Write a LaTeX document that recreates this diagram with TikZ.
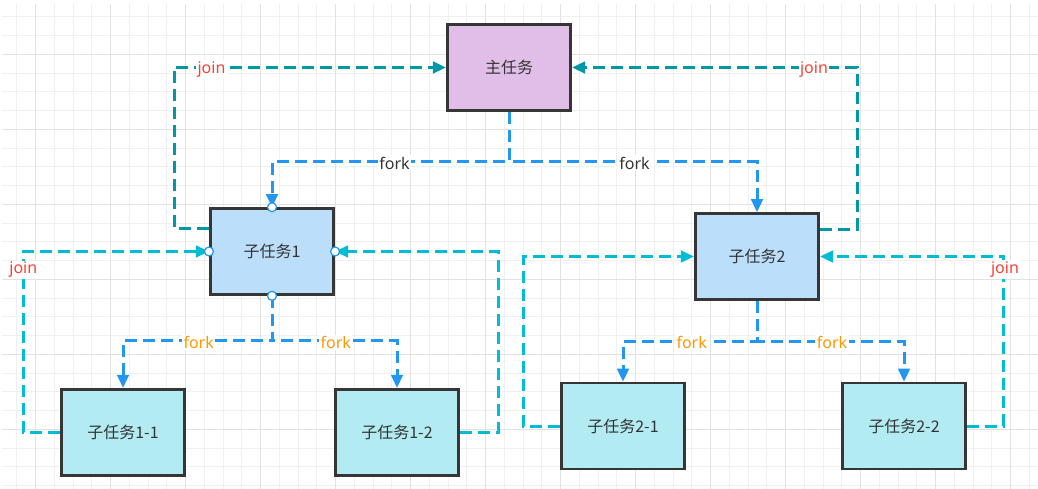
\documentclass[tikz,border=0pt]{standalone}
\usepackage{fontspec}
\setmainfont{Noto Sans}
\newfontfamily\cjk{Noto Sans CJK SC}
\usetikzlibrary{arrows.meta,calc}
\definecolor{gridminor}{HTML}{F0F0F0}
\definecolor{gridmajor}{HTML}{E2E2E2}
\definecolor{boxborder}{HTML}{363636}
\definecolor{textc}{HTML}{333333}
\definecolor{mainfill}{HTML}{E1BEE7}
\definecolor{subfill}{HTML}{BBDEFB}
\definecolor{leaffill}{HTML}{B2EBF2}
\definecolor{forkblue}{HTML}{2196F3}
\definecolor{jointeal}{HTML}{0097A7}
\definecolor{joincyan}{HTML}{00BCD4}
\definecolor{joinred}{HTML}{F44336}
\definecolor{forkorange}{HTML}{FF9800}
\begin{document}
\begin{tikzpicture}[x=1pt,y=-1pt,
  taskbox/.style={draw=boxborder, line width=2.6pt, minimum width=123.5pt, minimum height=86pt,
    inner sep=0pt, text=textc, font=\cjk\fontsize{16}{18}\selectfont},
  conn/.style={line width=3pt, dash pattern=on 12pt off 6pt, -{Triangle[length=13pt,width=11.5pt]}},
  forkline/.style={conn, draw=forkblue},
  joinmain/.style={conn, draw=jointeal},
  joinsub/.style={conn, draw=joincyan},
  lbl/.style={fill=white, inner sep=1.5pt, font=\fontsize{16}{18}\selectfont},
  port/.style={circle, draw=forkblue, fill=white, line width=1.2pt, minimum size=9pt, inner sep=0pt}
]
\useasboundingbox (0,0) rectangle (1038,489);
\fill[white] (0,0) rectangle (1038,489);
\begin{scope}
  \clip (2,4) rectangle (1038,489);
  \foreach \i in {0,...,55} { \draw[gridminor, line width=1pt] ({16.95+18.75*\i},4) -- ({16.95+18.75*\i},489); }
  \foreach \j in {0,...,25} { \draw[gridminor, line width=1pt] (2,{16.8+18.75*\j}) -- (1038,{16.8+18.75*\j}); }
  \foreach \i in {0,...,13} { \draw[gridmajor, line width=1pt] ({35.7+75*\i},4) -- ({35.7+75*\i},489); }
  \foreach \j in {0,...,5} { \draw[gridmajor, line width=1pt] (2,{54.3+75*\j}) -- (1038,{54.3+75*\j}); }
\end{scope}

% task boxes
\node[taskbox, fill=mainfill] (main) at (509,67.5) {主任务};
\node[taskbox, fill=subfill] (sub1) at (272,251.5) {子任务1};
\node[taskbox, fill=subfill] (sub2) at (757,256.5) {子任务2};
\node[taskbox, fill=leaffill] (n11) at (123,432.2) {子任务1-1};
\node[taskbox, fill=leaffill] (n12) at (397,432.2) {子任务1-2};
\node[taskbox, fill=leaffill] (n21) at (623,426) {子任务2-1};
\node[taskbox, fill=leaffill] (n22) at (904,426) {子任务2-2};

% bend points
\coordinate (fm) at ($(main.south)+(0,50)$);
\coordinate (f1) at ($(sub1.south)+(0,45)$);
\coordinate (f2) at ($(sub2.south)+(0,40.5)$);
\coordinate (ja) at (174,67.5);
\coordinate (jb) at (857,67.5);
\coordinate (jc) at (23.3,251.5);
\coordinate (jd) at (498.3,251.5);
\coordinate (je) at (523.3,256.5);
\coordinate (jf) at (1003.5,256.5);

% fork connectors
\draw[forkline] (main.south) -- (fm) -| (sub1.north);
\draw[forkline] (main.south) -- (fm) -| (sub2.north);
\draw[forkline] (sub1.south) -- (f1) -| (n11.north);
\draw[forkline] (sub1.south) -- (f1) -| (n12.north);
\draw[forkline] (sub2.south) -- (f2) -| (n21.north);
\draw[forkline] (sub2.south) -- (f2) -| (n22.north);

% join connectors
\draw[joinmain] ([yshift=23pt]sub1.west) -| (ja) -- (main.west);
\draw[joinmain] ([yshift=27.5pt]sub2.east) -| (jb) -- (main.east);
\draw[joinsub] (n11.west) -| (jc) -- (sub1.west);
\draw[joinsub] (n12.east) -| (jd) -- (sub1.east);
\draw[joinsub] (n21.west) -| (je) -- (sub2.west);
\draw[joinsub] (n22.east) -| (jf) -- (sub2.east);

% ports on selected box
\node[port] (pn) at (sub1.north) {};
\node[port] (ps) at (sub1.south) {};
\node[port] (pw) at (sub1.west) {};
\node[port] (pe) at (sub1.east) {};

% labels
\node[lbl, text=textc] (lf1) at (394.5,163) {fork};
\node[lbl, text=textc] (lf2) at (634.5,163) {fork};
\node[lbl, text=forkorange] (lf3) at (198.7,342.7) {fork};
\node[lbl, text=forkorange] (lf4) at (335.8,342.7) {fork};
\node[lbl, text=forkorange] (lf5) at (691.7,342.7) {fork};
\node[lbl, text=forkorange] (lf6) at (832,342.7) {fork};
\node[lbl, text=joinred] (lj1) at (211.5,69.5) {join};
\node[lbl, text=joinred] (lj2) at (814,70) {join};
\node[lbl, text=joinred] (lj3) at (23.3,270) {join};
\node[lbl, text=joinred] (lj4) at (1005,269.5) {join};
\end{tikzpicture}
\end{document}
